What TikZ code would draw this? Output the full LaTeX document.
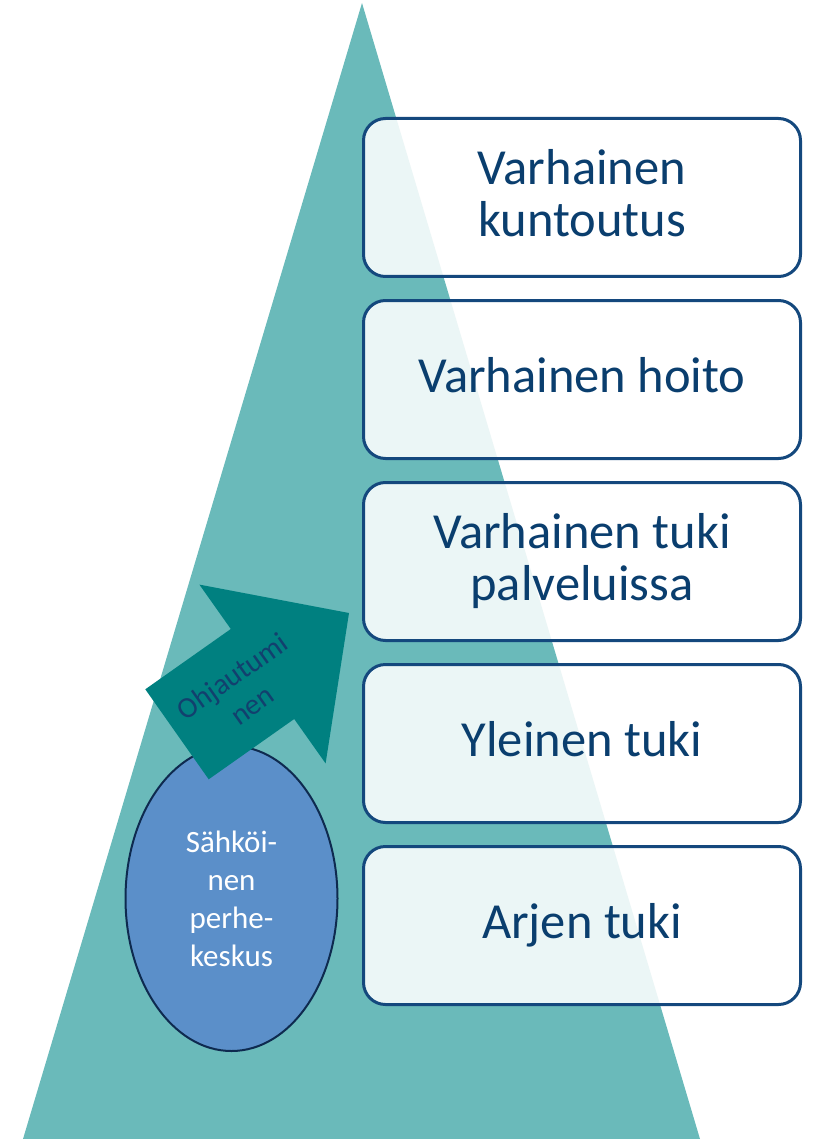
\documentclass[tikz,border=0pt]{standalone}
\usepackage{fontspec}
\setmainfont{Carlito}
\usetikzlibrary{shapes.geometric}
\definecolor{tri}{RGB}{106,186,186}
\definecolor{arrowc}{RGB}{0,128,128}
\definecolor{ellfill}{RGB}{91,143,201}
\definecolor{ellline}{RGB}{14,42,79}
\definecolor{boxline}{RGB}{20,72,125}
\definecolor{boxtext}{RGB}{10,62,110}
\definecolor{arrtext}{RGB}{18,64,110}
\newcommand\bstrut{\rule[-12pt]{0pt}{50pt}}
\newcommand\estrut{\rule[-4pt]{0pt}{29pt}}
\tikzset{
  stepbox/.style={rectangle, rounded corners=22pt, draw=boxline, line width=3pt,
    fill=white, fill opacity=0.87, text opacity=1, minimum width=437pt,
    minimum height=158pt, inner sep=0pt, text=boxtext, align=center,
    font=\fontsize{50.5}{52}\selectfont},
  ellnode/.style={ellipse, draw=ellline, line width=2pt, fill=ellfill,
    minimum width=212pt, minimum height=305pt, inner sep=0pt, text=white,
    align=center, font=\fontsize{31}{38}\selectfont},
  arrlabel/.style={text=arrtext, align=center, inner sep=0pt,
    font=\fontsize{29.5}{35}\selectfont}
}
\begin{document}
\begin{tikzpicture}[x=1pt,y=-1pt]
\useasboundingbox (0,0) rectangle (813,1139);
% pyramid
\fill[tri] (362,3) -- (700,1139) -- (23,1139) -- cycle;
% boxes
\node[stepbox] (b1) at (582,197.5) {\bstrut Varhainen\\kuntoutus\bstrut};
\node[stepbox] (b2) at (582,379.5) {\bstrut Varhainen hoito\bstrut};
\node[stepbox] (b3) at (582,561.5) {\bstrut Varhainen tuki\\palveluissa\bstrut};
\node[stepbox] (b4) at (582,743.5) {\bstrut Yleinen tuki\bstrut};
\node[stepbox] (b5) at (582,925.5) {\bstrut Arjen tuki\bstrut};
% ellipse
\node[ellnode] (ell) at (231.5,898.5) {\estrut Sähköi-\\nen\\perhe-\\keskus\estrut};
% arrow
\fill[arrowc] (145.3,689.3) -- (230.8,629) -- (199.4,584.6) -- (349,613)
  -- (325.6,763.4) -- (294.2,719) -- (208.7,779.3) -- cycle;
\node[arrlabel, rotate=35.2] (lbl) at (242,690.5) {Ohjautumi\\nen};
\end{tikzpicture}
\end{document}
